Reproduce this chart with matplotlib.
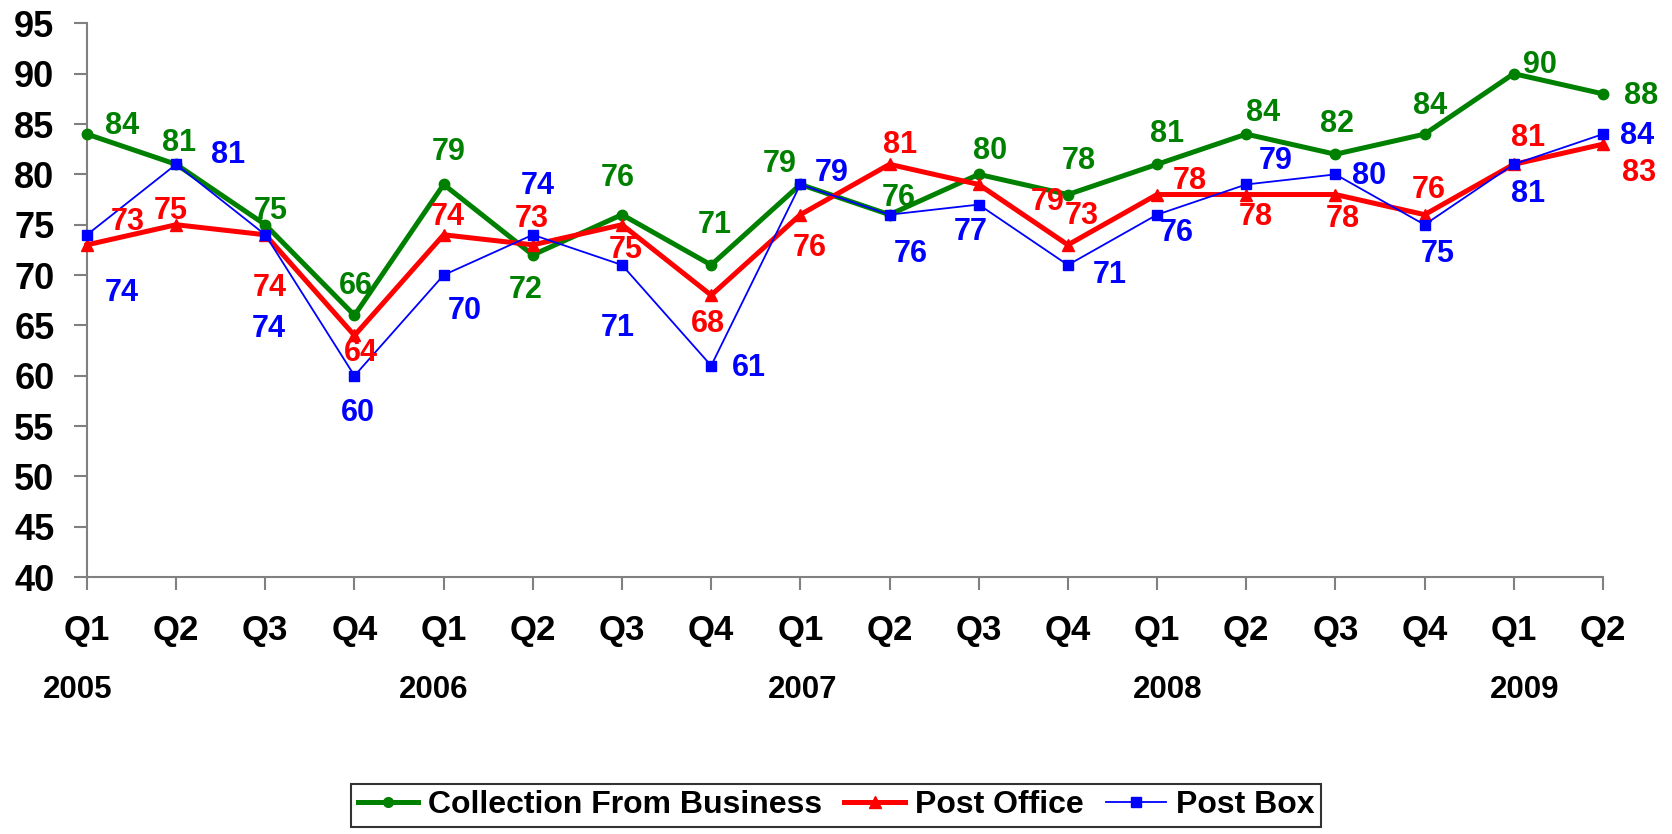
import matplotlib
matplotlib.use("Agg")
import matplotlib.pyplot as plt
from matplotlib.lines import Line2D

plt.rcParams['font.family'] = ['Liberation Sans', 'DejaVu Sans']
plt.rcParams['font.weight'] = 'bold'

quarters = ["Q1", "Q2", "Q3", "Q4", "Q1", "Q2", "Q3", "Q4", "Q1",
            "Q2", "Q3", "Q4", "Q1", "Q2", "Q3", "Q4", "Q1", "Q2"]
years = ["2005", "2006", "2007", "2008", "2009"]
year_pos = [0, 4, 8, 12, 16]

collection = [84, 81, 75, 66, 79, 72, 76, 71, 79, 76, 80, 78, 81, 84, 82, 84, 90, 88]
post_office = [73, 75, 74, 64, 74, 73, 75, 68, 76, 81, 79, 73, 78, 78, 78, 76, 81, 83]
post_box = [74, 81, 74, 60, 70, 74, 71, 61, 79, 76, 77, 71, 76, 79, 80, 75, 81, 84]

# label offsets in pixels (x right / y down) — layout only
green_off = [(35, -8), (3, -21), (5, -14), (1, -29), (5, -32), (-7, 35), (-4, -37), (4, -40),
             (-21, -20), (9, -17), (11, -23), (11, -34), (10, -30), (17, -21), (2, -30),
             (5, -28), (26, -9), (38, 2)]
red_off = [(41, -23), (-5, -14), (4, 53), (6, 18), (4, -18), (-1, -26), (4, 25), (-3, 29),
           (9, 33), (11, -19), (69, 18), (14, -29), (33, -14), (10, 22), (7, 24), (4, -25),
           (14, -26), (36, 29)]
blue_off = [(35, 58), (52, -9), (3, 94), (3, 37), (21, 36), (5, -49), (-4, 63), (38, 2),
            (31, -11), (21, 39), (-8, 27), (42, 10), (20, 18), (29, -23), (34, 2), (13, 29),
            (14, 30), (34, 2)]
year_dx = [-9, -10, 2, 11, 11]

GREEN = "#008000"
RED = "#FF0000"
BLUE = "#0000FF"

fig = plt.figure(figsize=(16.72, 8.34), dpi=100)
ax = fig.add_axes([0.052, 0.308, 0.9067, 0.664])

x = list(range(len(quarters)))
ax.plot(x, collection, color=GREEN, lw=3.6, marker='o', ms=7.5, clip_on=False, zorder=3)
ax.plot(x, post_office, color=RED, lw=3.6, marker='^', ms=9, clip_on=False, zorder=4)
ax.plot(x, post_box, color=BLUE, lw=1.3, marker='s', ms=7.2, clip_on=False, zorder=5)

conv = 72 / 100.0

def label(vals, offs, color):
    for i, (v, (dx, dy)) in enumerate(zip(vals, offs)):
        ax.annotate(str(v), xy=(i, v), xytext=(dx * conv, -dy * conv),
                    textcoords='offset points', ha='center', va='center',
                    fontsize=22, fontweight='bold', color=color, zorder=6,
                    annotation_clip=False)

label(collection, green_off, GREEN)
label(post_office, red_off, RED)
label(post_box, blue_off, BLUE)

ax.set_xlim(0, 17)
ax.set_ylim(40, 95)
ax.set_yticks(range(40, 96, 5))
ax.set_xticks(x)
ax.set_xticklabels(quarters)

for s in ['top', 'right']:
    ax.spines[s].set_visible(False)
for s in ['left', 'bottom']:
    ax.spines[s].set_color('#808080')
    ax.spines[s].set_linewidth(1.5)

ax.tick_params(axis='y', length=9.4, width=1.5, color='#808080', labelsize=26, pad=14)
ax.tick_params(axis='x', length=9.4, width=1.5, color='#808080', labelsize=25, pad=17)
for t in ax.get_xticklabels() + ax.get_yticklabels():
    t.set_fontweight('bold')

for yr, p, dx in zip(years, year_pos, year_dx):
    ax.annotate(yr, xy=(p, 0), xycoords=('data', 'axes fraction'),
                xytext=(dx * conv, -81), textcoords='offset points', ha='center', va='center',
                fontsize=22.5, fontweight='bold', annotation_clip=False)

handles = [Line2D([], [], color=GREEN, lw=3.6, marker='o', ms=7),
           Line2D([], [], color=RED, lw=3.6, marker='^', ms=8),
           Line2D([], [], color=BLUE, lw=1.3, marker='s', ms=6.5)]
leg = fig.legend(handles, ["Collection From Business", "Post Office", "Post Box"],
                 loc='upper center', bbox_to_anchor=(0.5, 0.06), ncol=3,
                 prop={'size': 23, 'weight': 'bold'}, frameon=True, fancybox=False,
                 edgecolor='black', handlelength=1.9, handletextpad=0.3,
                 columnspacing=0.7, borderpad=0.2, borderaxespad=0)
leg.get_frame().set_linewidth(1.5)

fig.savefig("out.png", dpi=100)
